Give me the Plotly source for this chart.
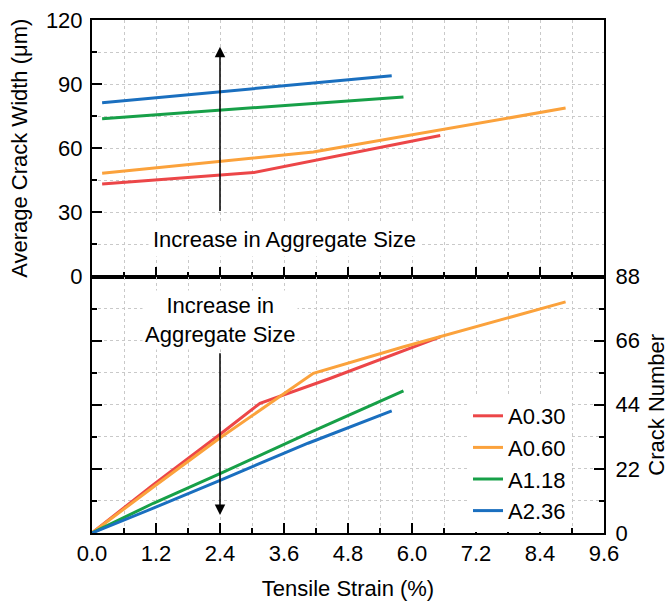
import plotly.graph_objects as go

# Series names and colours
series = ["A0.30", "A0.60", "A1.18", "A2.36"]
colors = ["#ec4648", "#fba23c", "#17a048", "#1a6fbf"]

# Average crack width (um) vs tensile strain (%)
width_strain = {
    "A0.30": [0.19, 2.40, 3.03, 6.53],
    "A0.60": [0.19, 2.40, 4.15, 8.88],
    "A1.18": [0.19, 2.40, 5.84],
    "A2.36": [0.19, 2.40, 5.62],
}
width_val = {
    "A0.30": [43.3, 47.5, 48.6, 66.0],
    "A0.60": [48.3, 54.0, 58.2, 78.8],
    "A1.18": [73.8, 77.9, 84.0],
    "A2.36": [81.3, 86.5, 93.9],
}

# Crack number vs tensile strain (%)
count_strain = {
    "A0.30": [0.0, 1.15, 2.39, 3.15, 4.46, 6.53],
    "A0.60": [0.0, 1.15, 2.39, 4.15, 5.83, 6.53, 8.88],
    "A1.18": [0.0, 1.15, 2.39, 4.05, 5.84],
    "A2.36": [0.0, 1.15, 2.39, 4.05, 5.62],
}
count_val = {
    "A0.30": [0.0, 16.6, 33.7, 44.5, 53.0, 67.3],
    "A0.60": [0.0, 15.8, 32.5, 54.8, 63.8, 67.3, 79.3],
    "A1.18": [0.0, 10.2, 20.3, 34.2, 48.8],
    "A2.36": [0.0, 8.5, 18.0, 30.8, 41.9],
}

x_ticks = [0.0, 1.2, 2.4, 3.6, 4.8, 6.0, 7.2, 8.4, 9.6]
width_ticks = [0, 30, 60, 90, 120]
count_ticks = [0, 22, 44, 66, 88]

FONT = "Liberation Sans, Arial, sans-serif"
FS = 22
GRID = "#c9c9c9"

fig = go.Figure()
for name, col in zip(series, colors):
    fig.add_trace(go.Scatter(
        x=width_strain[name], y=width_val[name], mode="lines",
        line=dict(color=col, width=3), xaxis="x", yaxis="y",
        showlegend=False, name=name,
    ))
for name, col in zip(series, colors):
    fig.add_trace(go.Scatter(
        x=count_strain[name], y=count_val[name], mode="lines",
        line=dict(color=col, width=3), xaxis="x2", yaxis="y2",
        name=name,
    ))

common = dict(
    showline=True, linewidth=2, linecolor="black",
    ticks="inside", ticklen=10, tickwidth=2, tickcolor="black",
    showgrid=True, gridcolor=GRID, gridwidth=1, griddash="3px,3px",
    zeroline=False,
    tickfont=dict(family=FONT, size=FS, color="black"),
)


def minor(step):
    return dict(dtick=step, tick0=0, ticks="inside", ticklen=5, tickwidth=2,
                tickcolor="black", showgrid=True, gridcolor=GRID,
                griddash="3px,3px", gridwidth=1)


XDOM = [92 / 669, 604 / 669]
TOP = [1 - 276.5 / 607, 1 - 20 / 607]
BOT = [1 - 533 / 607, 1 - 276.5 / 607]

fig.update_layout(
    width=669, height=607,
    margin=dict(l=0, r=0, t=0, b=0),
    paper_bgcolor="white", plot_bgcolor="white",
    font=dict(family=FONT, size=FS, color="black"),
    xaxis=dict(
        common, domain=XDOM, anchor="y", range=[0, 9.6],
        tickvals=x_ticks, showticklabels=False, mirror=True,
        minor=minor(0.6),
    ),
    xaxis2=dict(
        common, domain=XDOM, anchor="y2", range=[0, 9.6],
        tickvals=x_ticks, ticktext=[f"{v:.1f}" for v in x_ticks],
        mirror=True, ticklabelstandoff=0, automargin=False,
        minor=minor(0.6),
        title=dict(text="Tensile Strain (%)", font=dict(family=FONT, size=FS),
                   standoff=15),
    ),
    yaxis=dict(
        common, domain=TOP, anchor="x", range=[0, 120],
        tickvals=width_ticks, mirror=True, ticklabelstandoff=3,
        automargin=False, minor=minor(15),
        title=dict(text="Average Crack Width (\u03bcm)",
                   font=dict(family=FONT, size=FS), standoff=12),
    ),
    yaxis2=dict(
        common, domain=BOT, anchor="x2", range=[0, 88], side="right",
        tickvals=count_ticks, mirror="ticks", ticklabelstandoff=5,
        automargin=False, minor=minor(11),
        title=dict(text="Crack Number", font=dict(family=FONT, size=FS),
                   standoff=12),
    ),
    legend=dict(
        x=468 / 669, y=1 - 395 / 607, xanchor="left", yanchor="top",
        bgcolor="white", borderwidth=0, tracegroupgap=0,
        font=dict(family=FONT, size=FS, color="black"),
    ),
)

# Arrows and labels describing the aggregate-size trend
fig.add_annotation(
    x=2.4, y=107.5, ax=2.4, ay=30, xref="x", yref="y", axref="x", ayref="y",
    text="", showarrow=True, arrowhead=2, arrowsize=1.4, arrowwidth=1.5,
    arrowcolor="black",
)
fig.add_annotation(
    x=3.6, y=17.5, xref="x", yref="y", text="Increase in Aggregate Size",
    showarrow=False, bgcolor="white", borderpad=4,
    font=dict(family=FONT, size=FS, color="black"),
)
fig.add_annotation(
    x=2.4, y=6.2, ax=2.4, ay=62.2, xref="x2", yref="y2", axref="x2", ayref="y2",
    text="", showarrow=True, arrowhead=2, arrowsize=1.4, arrowwidth=1.5,
    arrowcolor="black",
)
fig.add_annotation(
    x=2.4, y=73.0, xref="x2", yref="y2", text="Increase in<br>Aggregate Size",
    showarrow=False, bgcolor="white", borderpad=2,
    font=dict(family=FONT, size=FS, color="black"),
)

fig.write_html("out.html")
